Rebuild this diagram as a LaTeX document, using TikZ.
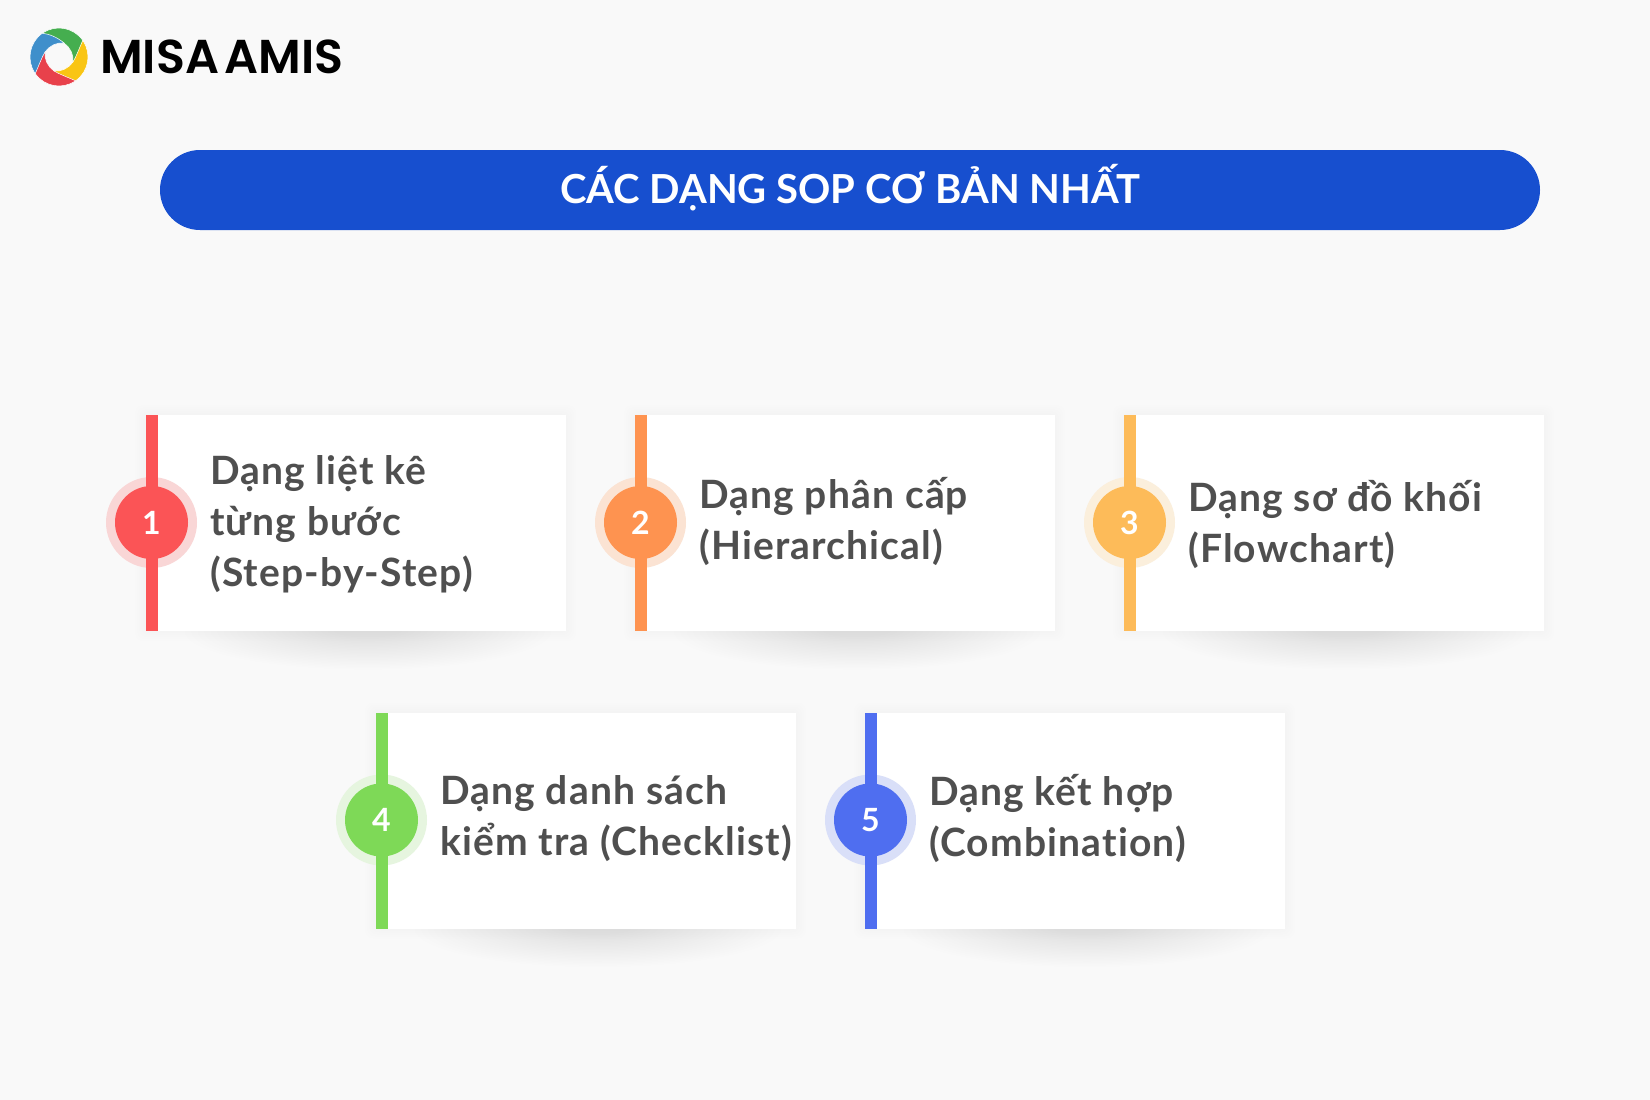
\documentclass[tikz,border=0pt]{standalone}
\usepackage{fontspec}
\setmainfont{Lato}
\newfontfamily\cardfont{Lato}[LetterSpace=3,Ligatures=NoCommon]
\newfontfamily\logofont{Poppins SemiBold}
\definecolor{bgc}{HTML}{F9F9F9}
\definecolor{pillc}{HTML}{174FCF}
\definecolor{txtc}{HTML}{4F4F4F}
\definecolor{cA}{HTML}{FB5456}\definecolor{hA}{HTML}{F9D6D6}
\definecolor{cB}{HTML}{FE9350}\definecolor{hB}{HTML}{FBE3D3}
\definecolor{cC}{HTML}{FDBB59}\definecolor{hC}{HTML}{FBEFDC}
\definecolor{cD}{HTML}{7ED957}\definecolor{hD}{HTML}{E6F5DF}
\definecolor{cE}{HTML}{4F6EF0}\definecolor{hE}{HTML}{D9DFF8}
\definecolor{lgB}{HTML}{3F8FCB}\definecolor{lgG}{HTML}{45AE4F}
\definecolor{lgY}{HTML}{F9C514}\definecolor{lgR}{HTML}{E8414B}
\tikzset{
  cardbox/.style={fill=white,inner sep=0pt,minimum width=420pt,minimum height=216pt,anchor=north west},
  barbox/.style={inner sep=0pt,minimum width=11.5pt,minimum height=216pt,anchor=north west},
  halo/.style={circle,inner sep=0pt,minimum size=91pt},
  badge/.style={circle,inner sep=0pt,minimum size=73pt,text=white,font=\fontsize{32}{32}\selectfont\bfseries},
  cardtext/.style={anchor=west,align=left,inner sep=0pt,text=txtc,font=\cardfont\fontsize{39}{51}\selectfont\bfseries},
  swirlpart/.style={draw=white,line width=0.5pt},
}
% #1 id, #2 x, #3 y, #4 colour, #5 halo, #6 number, #7 text y, #8 text
\newcommand\sopcard[8]{%
  \foreach \k in {1,...,5}{
    \fill[black,opacity=0.0025,rounded corners=8pt] (#2-1-2*\k,#3-2*\k) rectangle (#2+420+2*\k,#3+216+2*\k);
  }
  \foreach \k in {1,...,24}{
    \fill[black,opacity=0.004] (#2+222,#3+216) ellipse [x radius={190-6.5*\k},y radius={40-1.4*\k}];
  }
  \node[cardbox] (card#1) at (#2,#3) {};
  \node[halo,fill=#5] (halo#1) at (#2+5.5,#3+107.5) {};
  \node[barbox,fill=#4] (bar#1) at (#2,#3) {};
  \node[badge,fill=#4] (num#1) at (#2+5.5,#3+107.5) {#6};
  \node[cardtext] (text#1) at (#2+64,#7) {#8};
}
\begin{document}
\begin{tikzpicture}[x=1pt,y=-1pt]
\useasboundingbox (0,0) rectangle (1650,1100);
\fill[bgc] (0,0) rectangle (1650,1100);
% logo
\begin{scope}[shift={(59,57)},x=1pt,y=1pt]
\foreach \r/\c in {270/lgG,180/lgY,90/lgR,0/lgB}{
  \fill[\c,swirlpart,rotate=\r] (125:29) arc[start angle=125,end angle=215,radius=29]
    .. controls (-20,-8) and (-17,0) .. (-14,5)
    .. controls (-10,11) and (-2,15) .. (5,14)
    .. controls (-2,20) and (-10,23) .. (125:29) -- cycle;
}
\end{scope}
\node[anchor=base west,inner sep=0pt,font=\logofont\fontsize{47.5}{47.5}\selectfont,text=black] (logotext) at (100,73) {MISA\kern-3pt\ \kern-3pt AMIS};
% title
\node[fill=pillc,rounded corners=40pt,inner sep=0pt,minimum width=1380pt,minimum height=80pt,text=white,font=\fontsize{40}{40}\selectfont\bfseries] (title) at (850,190) {\raisebox{-13pt}[0pt][0pt]{CÁC DẠNG SOP CƠ BẢN NHẤT}};
\sopcard{1}{146}{415}{cA}{hA}{1}{524}{Dạng liệt kê\\từng bước\\(Step-by-Step)}
\sopcard{2}{635}{415}{cB}{hB}{2}{521}{Dạng phân cấp\\(Hierarchical)}
\sopcard{3}{1124}{415}{cC}{hC}{3}{524}{Dạng sơ đồ khối\\(Flowchart)}
\sopcard{4}{376}{712.5}{cD}{hD}{4}{819}{Dạng danh sách\\kiểm tra (Checklist)}
\sopcard{5}{865}{712.5}{cE}{hE}{5}{818.5}{Dạng kết hợp\\(Combination)}
\end{tikzpicture}
\end{document}
